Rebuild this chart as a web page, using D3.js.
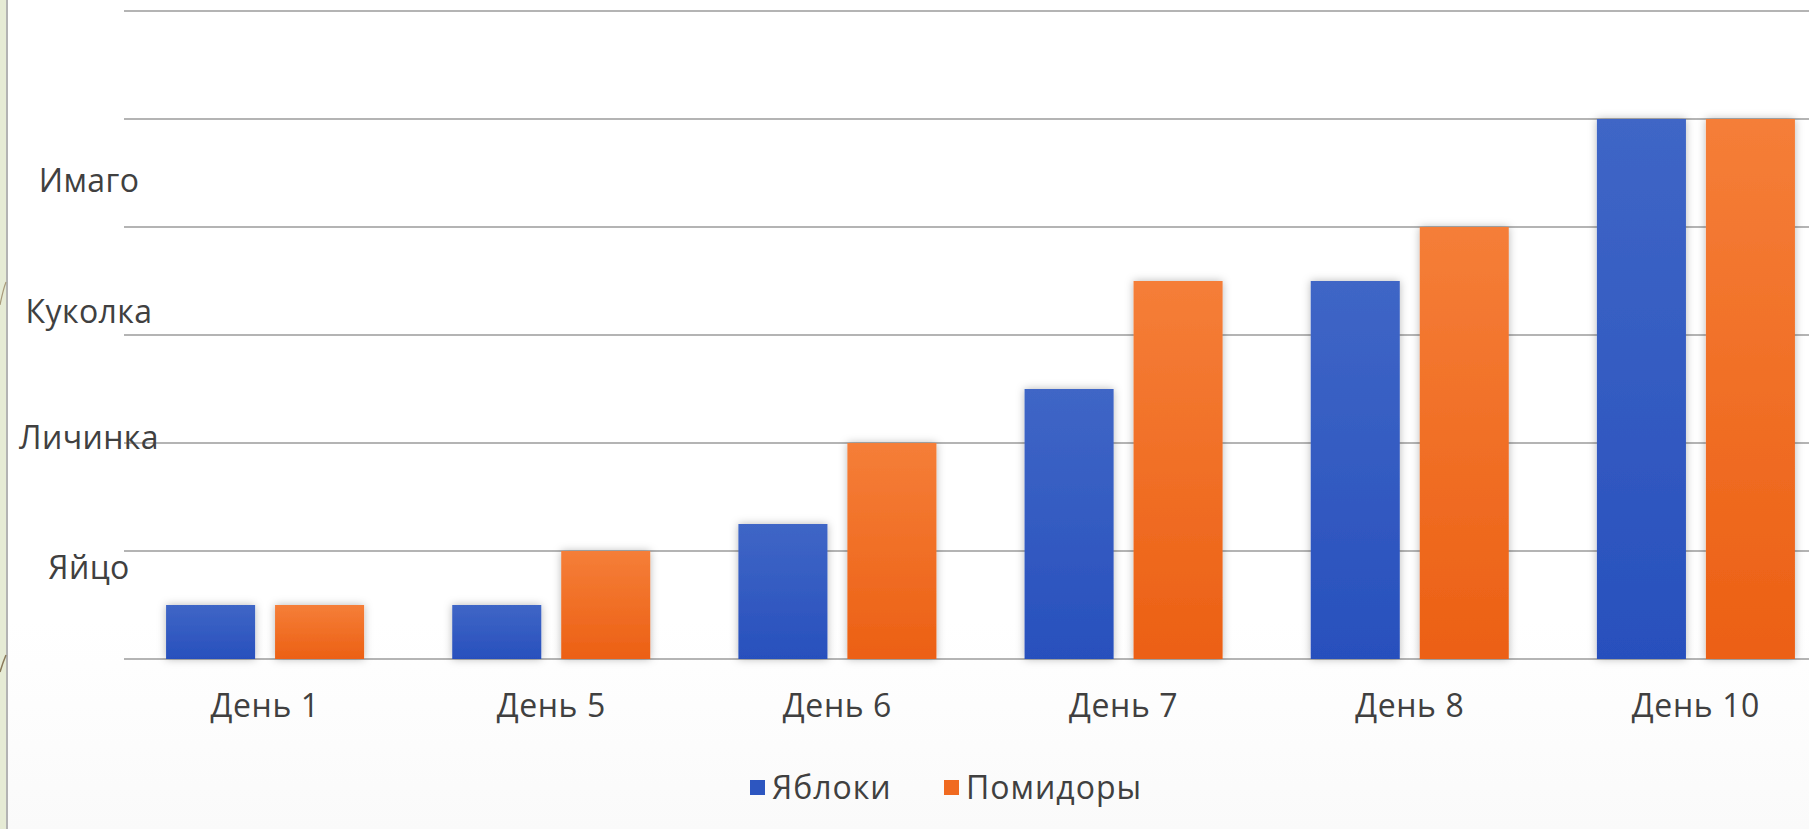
<!DOCTYPE html>
<html><head><meta charset="utf-8">
<script src="https://cdn.jsdelivr.net/npm/d3@7"></script>
<style>
html,body{margin:0;padding:0;background:#fcfcfc;overflow:hidden;}
svg{display:block;}
</style></head>
<body>
<svg id="chart" width="1809" height="829"></svg>
<script>
const categories = ["День 1","День 5","День 6","День 7","День 8","День 10"];
const seriesNames = ["Яблоки","Помидоры"];
const apples =   [0.5, 0.5, 1.25, 2.5, 3.5, 5];
const tomatoes = [0.5, 1.0, 2.0, 3.5, 4.0, 5];
const gridValues = [0,1,2,3,4,5,6];
const stageLabels = ["Яйцо","Личинка","Куколка","Имаго"];
const stagePositions = [0.85, 2.05, 3.22, 4.43];

const svg = d3.select("#chart");
const W = 1809, H = 829;
const plot = {left:122, right:1839, top:11, bottom:659};
const font = "'Open Sans', 'DejaVu Sans', sans-serif";
const textColor = "#404040";
const fs = 32;

const defs = svg.append("defs");
const gBlue = defs.append("linearGradient").attr("id","gBlue").attr("x1",0).attr("y1",0).attr("x2",0).attr("y2",1);
gBlue.append("stop").attr("offset","0%").attr("stop-color","#3f66c6");
gBlue.append("stop").attr("offset","100%").attr("stop-color","#2850bd");
const gOr = defs.append("linearGradient").attr("id","gOr").attr("x1",0).attr("y1",0).attr("x2",0).attr("y2",1);
gOr.append("stop").attr("offset","0%").attr("stop-color","#f57e38");
gOr.append("stop").attr("offset","100%").attr("stop-color","#ec6014");
const bgGrad = defs.append("linearGradient").attr("id","bgGrad").attr("x1",0).attr("y1",0).attr("x2",0).attr("y2",1);
bgGrad.append("stop").attr("offset","0%").attr("stop-color","#ffffff");
bgGrad.append("stop").attr("offset","75%").attr("stop-color","#ffffff");
bgGrad.append("stop").attr("offset","100%").attr("stop-color","#fafafa");
const f = defs.append("filter").attr("id","shadow").attr("x","-20%").attr("y","-20%").attr("width","140%").attr("height","140%");
f.append("feDropShadow").attr("dx",0).attr("dy",0).attr("stdDeviation",4).attr("flood-color","#000").attr("flood-opacity",0.28);

// background
svg.append("rect").attr("width",W).attr("height",H).attr("fill","url(#bgGrad)");
// left decorative strip
svg.append("rect").attr("x",0).attr("y",0).attr("width",6).attr("height",H).attr("fill","#e6ebd5");
svg.append("rect").attr("x",6).attr("y",0).attr("width",2).attr("height",H).attr("fill","#b3b3b3");
svg.append("path").attr("d","M0,305 Q3,290 6,282").attr("stroke","#a89a7a").attr("stroke-width",1.2).attr("fill","none");
svg.append("path").attr("d","M0,672 Q3,662 6,655").attr("stroke","#8a7a5a").attr("stroke-width",1.5).attr("fill","none");

const x0 = d3.scaleBand().domain(categories).range([plot.left, plot.right]).paddingInner(0.308).paddingOuter(0.154);
const x1 = d3.scaleBand().domain(seriesNames).range([0, x0.bandwidth()]).paddingInner(0.183);
const y = d3.scaleLinear().domain([0,6]).range([plot.bottom, plot.top]);
const colors = d3.scaleOrdinal().domain(seriesNames).range(["url(#gBlue)","url(#gOr)"]);
const legendColors = d3.scaleOrdinal().domain(seriesNames).range(["#2d56c0","#f06a20"]);

// gridlines
svg.append("g").selectAll("line").data(gridValues).join("line")
  .attr("x1",plot.left+2).attr("x2",W)
  .attr("y1",d=>y(d)).attr("y2",d=>y(d))
  .attr("stroke","#b4b4b4").attr("stroke-width",2);

// bars
const data = categories.map((c,i)=>({cat:c, values:[{s:seriesNames[0],v:apples[i]},{s:seriesNames[1],v:tomatoes[i]}]}));
const groups = svg.append("g").selectAll("g").data(data).join("g")
  .attr("transform",d=>`translate(${x0(d.cat)},0)`);
groups.selectAll("rect").data(d=>d.values).join("rect")
  .attr("x",d=>x1(d.s)).attr("width",x1.bandwidth())
  .attr("y",d=>y(d.v)).attr("height",d=>y(0)-y(d.v))
  .attr("fill",d=>colors(d.s)).attr("filter","url(#shadow)");

// x axis labels
const xAxis = d3.axisBottom(x0).tickSize(0).tickPadding(0);
const xg = svg.append("g").attr("transform",`translate(0,${plot.bottom})`).call(xAxis);
xg.select(".domain").remove();
xg.selectAll("text").attr("dy",0).attr("y",58).attr("font-family",font).attr("font-size",fs)
  .attr("letter-spacing",0.6).attr("fill",textColor);

// y stage labels
const yAxis = d3.axisLeft(y).tickValues(stagePositions).tickFormat((d,i)=>stageLabels[i]).tickSize(0);
const yg = svg.append("g").attr("transform","translate(0,0)").call(yAxis);
yg.select(".domain").remove();
yg.selectAll("text").attr("x",89).attr("text-anchor","middle").attr("dy","0.35em")
  .attr("font-family",font).attr("font-size",fs).attr("letter-spacing",0.4).attr("fill",textColor);

// legend
const legend = svg.append("g").attr("transform","translate(750,788)");
const items = [{s:seriesNames[0],x:0},{s:seriesNames[1],x:194}];
const li = legend.selectAll("g").data(items).join("g").attr("transform",d=>`translate(${d.x},0)`);
li.append("rect").attr("x",0).attr("y",-8).attr("width",15).attr("height",15).attr("fill",d=>legendColors(d.s));
li.append("text").attr("x",22).attr("y",0).attr("dy","0.35em").text(d=>d.s)
  .attr("font-family",font).attr("font-size",fs).attr("letter-spacing",1).attr("fill",textColor);
</script>
</body></html>
